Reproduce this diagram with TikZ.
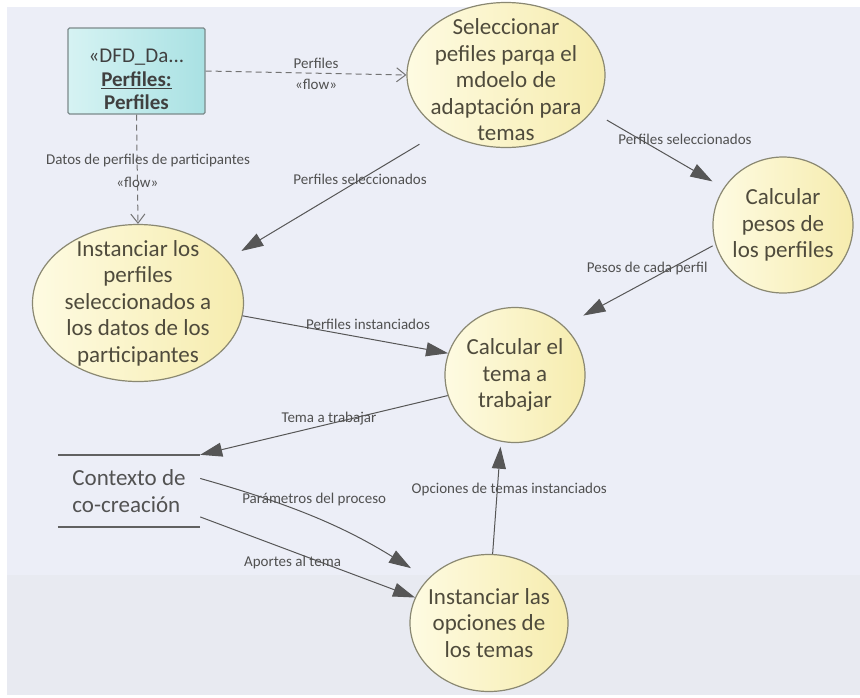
\documentclass[tikz,border=0pt]{standalone}
\usepackage{fontspec}
\setmainfont{Carlito}
\usetikzlibrary{shapes.geometric,arrows.meta}

\definecolor{fondo}{HTML}{ECEEF7}
\definecolor{fondob}{HTML}{E8EAF1}
\definecolor{elclaro}{HTML}{FEFBE2}
\definecolor{elamar}{HTML}{F6ECAE}
\definecolor{elborde}{HTML}{8A8872}
\definecolor{eltexto}{HTML}{4F4B3C}
\definecolor{cajaclara}{HTML}{D6F3F3}
\definecolor{cajaazul}{HTML}{A9E1E3}
\definecolor{cajaborde}{HTML}{7C8A8B}
\definecolor{flecha}{HTML}{565656}
\definecolor{etiq}{HTML}{505050}

\tikzset{
  proc/.style={ellipse, draw=elborde, line width=1.2pt, left color=elclaro,
    right color=elamar, inner sep=0pt},
  proctext/.style={align=center, text=eltexto, font=\fontsize{23}{26.5}\selectfont},
  entidad/.style={rectangle, rounded corners=1.5pt, draw=cajaborde, line width=1.3pt,
    left color=cajaclara, right color=cajaazul, minimum width=137, minimum height=86,
    inner sep=0pt, align=center, text=black!75, font=\fontsize{21}{23.5}\selectfont},
  almacen/.style={rectangle, minimum width=142, minimum height=72, inner sep=0pt,
    align=left, text=black!68, font=\fontsize{23}{27}\selectfont},
  lbl/.style={font=\fontsize{15}{17}\selectfont, text=etiq, inner sep=1pt},
  flujo/.style={draw=flecha, line width=1pt, ->},
  traza/.style={draw=black!55, line width=1pt, dashed, dash pattern=on 6pt off 4pt,
    -{Straight Barb[length=9pt,width=14pt]}}
}

\begin{document}
\begin{tikzpicture}[x=1pt, y=-1pt, >={Triangle[length=22pt,width=14pt]}]
      % fondo
      \useasboundingbox (0,0) rectangle (860,697);
      \fill[white] (0,0) rectangle (860,697);
      \fill[fondo] (7,7) rectangle (860,575);
      \fill[fondob] (7,575) rectangle (860,695);

      % procesos
      \node[proc, minimum width=198, minimum height=145] (sel) at (506,75) {};
      \node[proctext] (selt) at (506,80) {Seleccionar\\pefiles parqa el\\mdoelo de\\adaptación para\\temas};
      \node[proc, minimum width=140, minimum height=136] (pes) at (783,225) {};
      \node[proctext] (pest) at (pes) {Calcular\\pesos de\\los perfiles};
      \node[proc, minimum width=211, minimum height=157] (inst) at (138,303) {};
      \node[proctext] (instt) at (inst) {Instanciar los\\perfiles\\seleccionados a\\los datos de los\\participantes};
      \node[proc, minimum width=140, minimum height=135] (tema) at (515,375) {};
      \node[proctext] (temat) at (tema) {Calcular el\\tema a\\trabajar};
      \node[proc, minimum width=158, minimum height=137] (opc) at (489,623) {};
      \node[proctext] (opct) at (opc) {Instanciar las\\opciones de\\los temas};

      % entidad y almacen
      \node[entidad] (box) at (136.5,71) {\rule{0pt}{31pt}«DFD\_Da...\\\textbf{\underline{Perfiles:}}\\\textbf{Perfiles}};
      \node[almacen] (ctx) at (129,491) {Contexto de\\co-creación};
      \draw[black!62, line width=2pt] (ctx.north west) -- (ctx.north east);
      \draw[black!62, line width=2pt] (ctx.south west) -- (ctx.south east);

      % flujos
      \draw[traza] (box.east) -- node[lbl, above, pos=0.55, yshift=3]{Perfiles}
        node[lbl, below, pos=0.55, yshift=-4]{«flow»} (sel.west);
      \draw[traza] (box.south) -- node[lbl, pos=0.42, xshift=11]{Datos de perfiles de participantes}
        node[lbl, pos=0.62]{«flow»} (inst.north);
      \draw[flujo, shorten <=26pt, shorten >=17pt] (sel.221) -- node[lbl, pos=0.38]{Perfiles seleccionados} (inst.26);
      \draw[flujo, shorten <=17pt, shorten >=13pt] (sel.337) -- node[lbl, pos=0.5, xshift=27, yshift=10]{Perfiles seleccionados} (pes.148);
      \draw[flujo, shorten <=3pt, shorten >=22pt] (pes.196) -- node[lbl, pos=0.45, yshift=13]{Pesos de cada perfil} (tema.45);
      \draw[flujo] (inst.353) -- node[lbl, pos=0.61, yshift=14]{Perfiles instanciados} (tema.162);
      \draw[flujo] (tema.197) -- node[lbl, pos=0.48, yshift=5]{Tema a trabajar} (ctx.north east);
      \draw[flujo, shorten >=20pt] (ctx.10) to[bend left=8] node[lbl, pos=0.5, xshift=-4, yshift=20]{Parámetros del proceso} (opc.144);
      \draw[flujo] (ctx.340) -- node[lbl, pos=0.43, yshift=-11]{Aportes al tema} (opc.161);
      \draw[flujo, shorten >=5pt] (opc.87) -- node[lbl, pos=0.57, xshift=12]{Opciones de temas instanciados} (tema.258);
\end{tikzpicture}
\end{document}
